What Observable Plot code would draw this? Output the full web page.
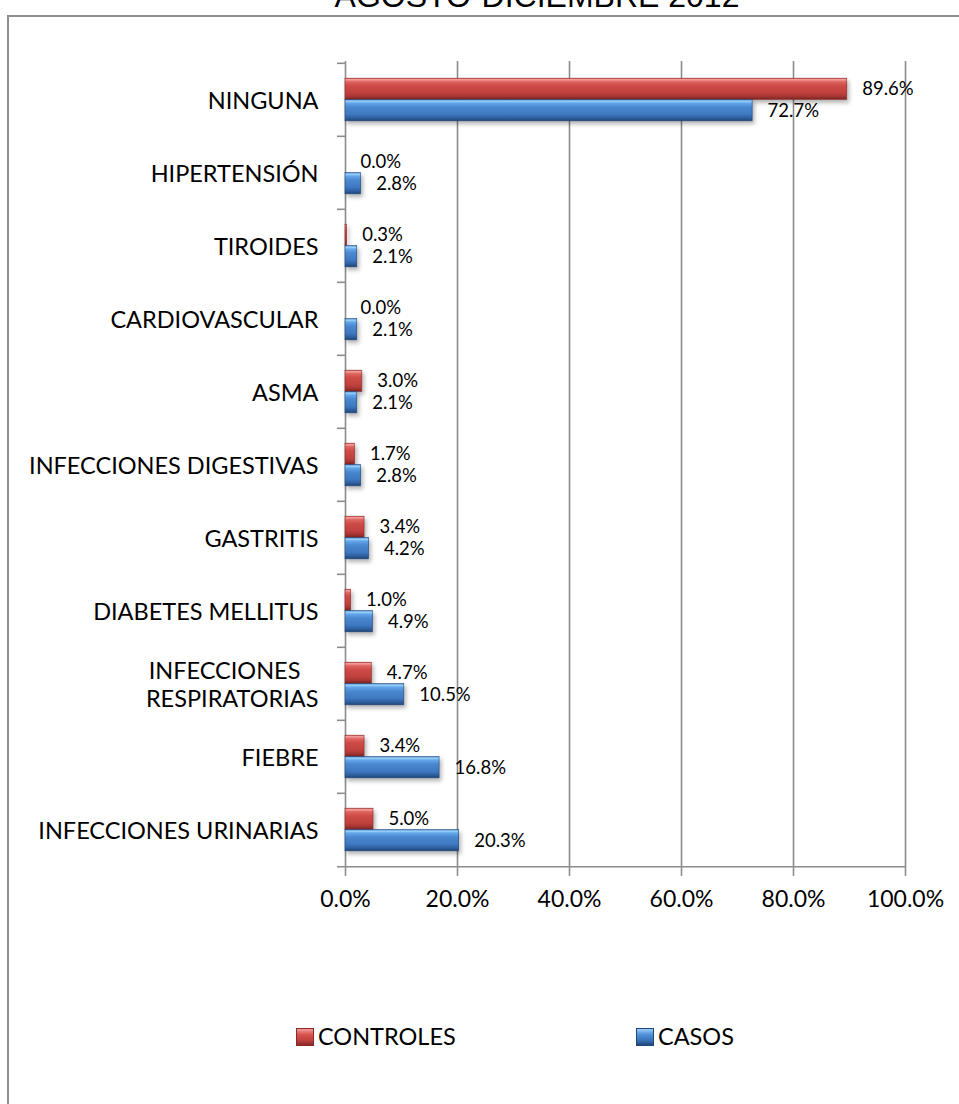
<!DOCTYPE html>
<html>
<head>
<meta charset="utf-8">
<script src="https://cdn.jsdelivr.net/npm/d3@7"></script>
<script src="https://cdn.jsdelivr.net/npm/@observablehq/plot@0.6"></script>
<style>
  html, body { margin: 0; padding: 0; width: 959px; height: 1104px; overflow: hidden; background: #fff; }
  body { position: relative; font-family: Lato, "Noto Sans", sans-serif; color: #000; }
  #border { position: absolute; left: 7px; top: 15px; width: 1100px; height: 1200px; border: 2.5px solid #8e8e8e; box-sizing: border-box; }
  #title { position: absolute; left: 0; width: 1074px; top: -20px; text-align: center; font: 32px/1 "Liberation Sans", Arial, sans-serif; color: #000; white-space: nowrap; }
  #chart { position: absolute; left: 0; top: 0; }
  .legend-item { position: absolute; top: 1024px; height: 26px; display: flex; align-items: center; font-size: 23.5px; line-height: 1; }
  .sw { width: 18px; height: 18px; margin-right: 4px; box-sizing: border-box; }
  .sw.red { background: linear-gradient(to bottom, #f39c99 0%, #d9534f 35%, #c0413e 70%, #8a2a28 100%); border: 1px solid #8a2a28; }
  .sw.blue { background: linear-gradient(to bottom, #9ad0f8 0%, #4f8fd6 35%, #3a74bd 70%, #21477a 100%); border: 1px solid #21477a; }
  .bar-shadow { filter: drop-shadow(2px 3px 2px rgba(0,0,0,0.30)); }
</style>
</head>
<body>
<div id="title">AGOSTO-DICIEMBRE 2012</div>
<div id="border"></div>
<div id="chart"></div>
<div id="legend"></div>
<script>
// ---- data ----
const categories = ["NINGUNA", "HIPERTENSIÓN", "TIROIDES", "CARDIOVASCULAR", "ASMA",
  "INFECCIONES DIGESTIVAS", "GASTRITIS", "DIABETES MELLITUS",
  "INFECCIONES\u00a0\u00a0\u00a0\nRESPIRATORIAS", "FIEBRE", "INFECCIONES URINARIAS"];
const controles = [89.6, 0.0, 0.3, 0.0, 3.0, 1.7, 3.4, 1.0, 4.7, 3.4, 5.0];
const casos     = [72.7, 2.8, 2.1, 2.1, 2.1, 2.8, 4.2, 4.9, 10.5, 16.8, 20.3];
const seriesNames = ["CONTROLES", "CASOS"];
const xTicks = [0, 20, 40, 60, 80, 100];

// ---- layout ----
const W = 959, H = 940;
const mL = 345, mR = 54, mT = 61, plotBottom = 868, mB = H - plotBottom;
const band = (plotBottom - mT) / categories.length;
const barH = 21.5;
const gridColor = "#8c8c8c";
const pct = d => d.toFixed(1) + "%";

const rowsRed = categories.map((c, i) => ({cat: c, series: seriesNames[0], value: controles[i]}));
const rowsBlue = categories.map((c, i) => ({cat: c, series: seriesNames[1], value: casos[i]}));

function gradients() {
  const defs = d3.create("svg:defs");
  const mk = (id, stops) => {
    const g = defs.append("linearGradient").attr("id", id).attr("x1", 0).attr("y1", 0).attr("x2", 0).attr("y2", 1);
    stops.forEach(([o, c]) => g.append("stop").attr("offset", o).attr("stop-color", c));
  };
  mk("gRed", [["0%", "#d65a56"], ["7%", "#f5a19e"], ["16%", "#e06864"], ["35%", "#cf4b47"], ["70%", "#c0413e"], ["86%", "#a63532"], ["100%", "#7a2523"]]);
  mk("gBlue", [["0%", "#4e8ed6"], ["7%", "#9cd2f8"], ["16%", "#63a7ea"], ["35%", "#4a88d0"], ["70%", "#3d77bf"], ["86%", "#2f5f9d"], ["100%", "#1f4577"]]);
  return defs.node();
}

const chart = Plot.plot({
  width: W,
  height: H,
  marginLeft: mL,
  marginRight: mR,
  marginTop: mT,
  marginBottom: mB,
  style: {fontFamily: "Lato, 'Noto Sans', sans-serif", fontSize: "23.5px", color: "#000", overflow: "visible", background: "transparent"},
  x: {domain: [0, 100], label: null},
  y: {domain: categories, padding: 0, label: null},
  marks: [
    gradients,
    Plot.ruleX(xTicks, {stroke: gridColor, strokeWidth: 1.6}),
    Plot.ruleY(categories, {y: d => d, dy: -band / 2, x1: 0, x2: 0, insetLeft: -8, stroke: gridColor, strokeWidth: 1.6}),
    Plot.ruleY([categories[categories.length - 1]], {y: d => d, dy: band / 2, insetLeft: -8, stroke: gridColor, strokeWidth: 1.6}),
    Plot.barX(rowsRed, {y: "cat", x: "value", fill: "url(#gRed)", stroke: "#8a2a28", strokeWidth: 0.6,
      insetTop: band / 2 - barH, insetBottom: band / 2, className: "bar-shadow"}),
    Plot.barX(rowsBlue, {y: "cat", x: "value", fill: "url(#gBlue)", stroke: "#21477a", strokeWidth: 0.6,
      insetTop: band / 2, insetBottom: band / 2 - barH, className: "bar-shadow"}),
    Plot.text(rowsRed, {y: "cat", x: "value", text: d => pct(d.value), dx: 15, dy: -barH / 2, textAnchor: "start", fontSize: 18.5, fill: "#000"}),
    Plot.text(rowsBlue, {y: "cat", x: "value", text: d => pct(d.value), dx: 15, dy: barH / 2, textAnchor: "start", fontSize: 18.5, fill: "#000"}),
    Plot.axisY({tickSize: 0, tickPadding: 27, fontSize: 23.5, lineHeight: 1.2, label: null}),
    Plot.axisX(xTicks, {tickSize: 8, tickPadding: 14, tickFormat: pct, stroke: gridColor, strokeWidth: 1.6, fontSize: 23, label: null})
  ]
});
document.getElementById("chart").appendChild(chart);

// ---- legend ----
const legend = document.getElementById("legend");
const legendPos = [296, 636];
seriesNames.forEach((name, i) => {
  const item = document.createElement("div");
  item.className = "legend-item";
  item.style.left = legendPos[i] + "px";
  const sw = document.createElement("div");
  sw.className = "sw " + (i === 0 ? "red" : "blue");
  const tx = document.createElement("span");
  tx.textContent = name;
  item.appendChild(sw);
  item.appendChild(tx);
  legend.appendChild(item);
});
</script>
</body>
</html>
